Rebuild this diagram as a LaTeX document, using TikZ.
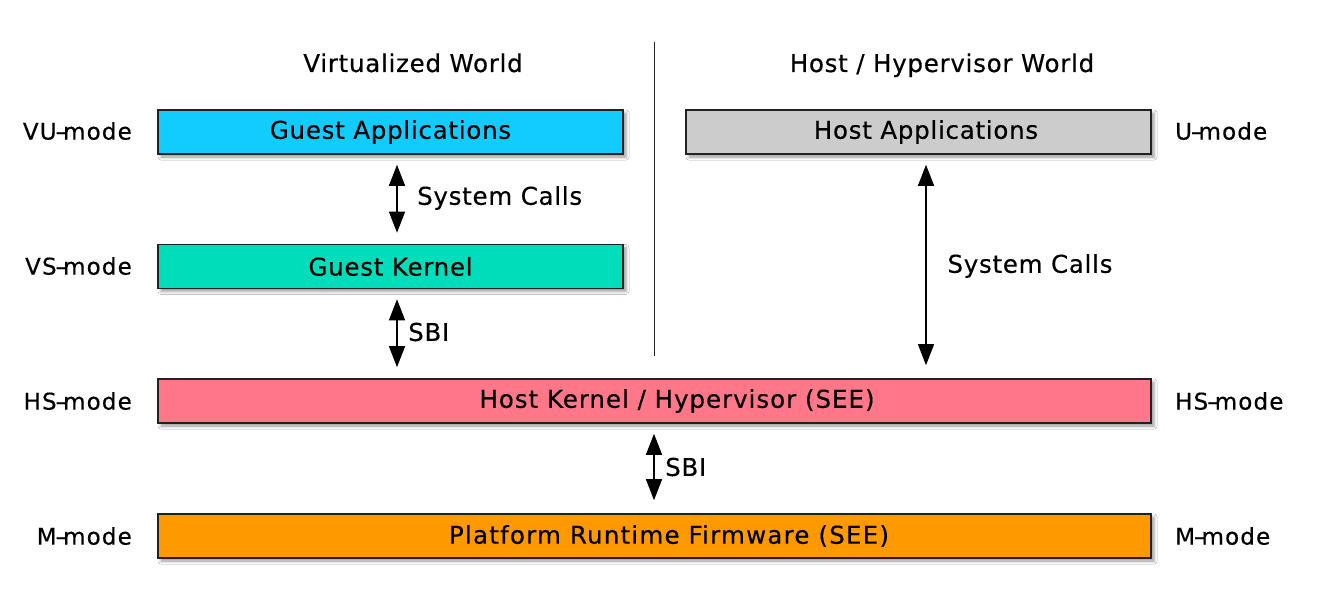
\documentclass[tikz,border=0pt]{standalone}
\usepackage{fontspec}
\setmainfont{DejaVu Sans}[LetterSpace=3,FakeBold=0.4]
\usetikzlibrary{arrows.meta,shadows.blur}
\definecolor{cGA}{HTML}{12CCFF}
\definecolor{cGK}{HTML}{00DDBB}
\definecolor{cHA}{HTML}{CCCCCC}
\definecolor{cHK}{HTML}{FF7788}
\definecolor{cPF}{HTML}{FF9900}
\definecolor{cBorder}{HTML}{222222}
\begin{document}
\begin{tikzpicture}[x=1pt,y=-1pt,
  layer/.style={draw=cBorder, line width=1.6pt, minimum height=44pt, inner sep=0pt,
     font=\fontsize{24.5}{28}\selectfont,
     blur shadow={shadow xshift=3pt, shadow yshift=-3pt, shadow blur radius=3pt, shadow opacity=40}},
  modelbl/.style={font=\fontsize{23}{26}\selectfont\addfontfeatures{LetterSpace=5}, inner sep=0pt},
  worldlbl/.style={font=\fontsize{24.5}{28}\selectfont, inner sep=0pt, anchor=base},
  arrlbl/.style={font=\fontsize{24.5}{28}\selectfont, inner sep=0pt},
  dbl/.style={{Triangle[length=21pt,width=16pt]}-{Triangle[length=21pt,width=16pt]}, line width=1.3pt}
]
\useasboundingbox (0,0) rectangle (1338,591);
\fill[white] (0,0) rectangle (1338,591);

% boxes
\node[layer, fill=cGA, minimum width=465pt] (ga) at (390.5,132) {Guest Applications};
\node[layer, fill=cHA, minimum width=465pt] (ha) at (918.5,132) {\hspace*{15pt}Host Applications};
\node[layer, fill=cGK, minimum width=465pt] (gk) at (390.5,266.5) {Guest Kernel};
\node[layer, fill=cHK, minimum width=993pt] (hk) at (654.5,401) {\hspace*{45pt}\addfontfeatures{LetterSpace=4}Host Kernel / Hypervisor (SEE)};
\node[layer, fill=cPF, minimum width=993pt] (pf) at (654.5,536) {\hspace*{29pt}\addfontfeatures{LetterSpace=5}Platform Runtime Firmware (SEE)};

% world titles and divider
\node[worldlbl] (vw) at (413,72) {Virtualized World};
\node[worldlbl] (hw) at (942,72) {Host / Hypervisor World};
\coordinate (divtop) at (654.5,42);
\coordinate (divbot) at (654.5,356);
\draw[line width=1.2pt, cBorder] (divtop) -- (divbot);

% mode labels
\node[modelbl, anchor=east] (lvu) at (132,131) {VU\kern-1pt–\kern-4pt mode};
\node[modelbl, anchor=east] (lvs) at (132,266) {VS\kern-1pt–\kern-4pt mode};
\node[modelbl, anchor=east] (lhs) at (132,401) {HS\kern-1pt–\kern-4pt mode};
\node[modelbl, anchor=east] (lm)  at (132,536) {M\kern-1pt–\kern-4pt mode};
\node[modelbl, anchor=west] (ru)  at (1175,131) {U\kern-1pt–\kern-4pt mode};
\node[modelbl, anchor=west] (rhs) at (1175,401) {HS\kern-1pt–\kern-4pt mode};
\node[modelbl, anchor=west] (rm)  at (1175,536) {M\kern-1pt–\kern-4pt mode};

% arrows
\coordinate (xa) at (397,0);
\coordinate (xb) at (926,0);
\coordinate (xc) at (654,0);
\draw[dbl, shorten <=10pt, shorten >=11pt] (ga.south -| xa) -- (gk.north -| xa);
\draw[dbl, shorten <=10pt, shorten >=11pt] (gk.south -| xa) -- (hk.north -| xa);
\draw[dbl, shorten <=10pt, shorten >=13pt] (ha.south -| xb) -- (hk.north -| xb);
\draw[dbl, shorten <=10pt, shorten >=13pt] (hk.south -| xc) -- (pf.north -| xc);

\node[arrlbl, anchor=west] (sc1) at (417,198) {System Calls};
\node[arrlbl] (sc2) at (1030,266) {System Calls};
\node[arrlbl, anchor=west] (sbi1) at (408,332) {SBI};
\node[arrlbl, anchor=west] (sbi2) at (665,467) {SBI};
\end{tikzpicture}
\end{document}
